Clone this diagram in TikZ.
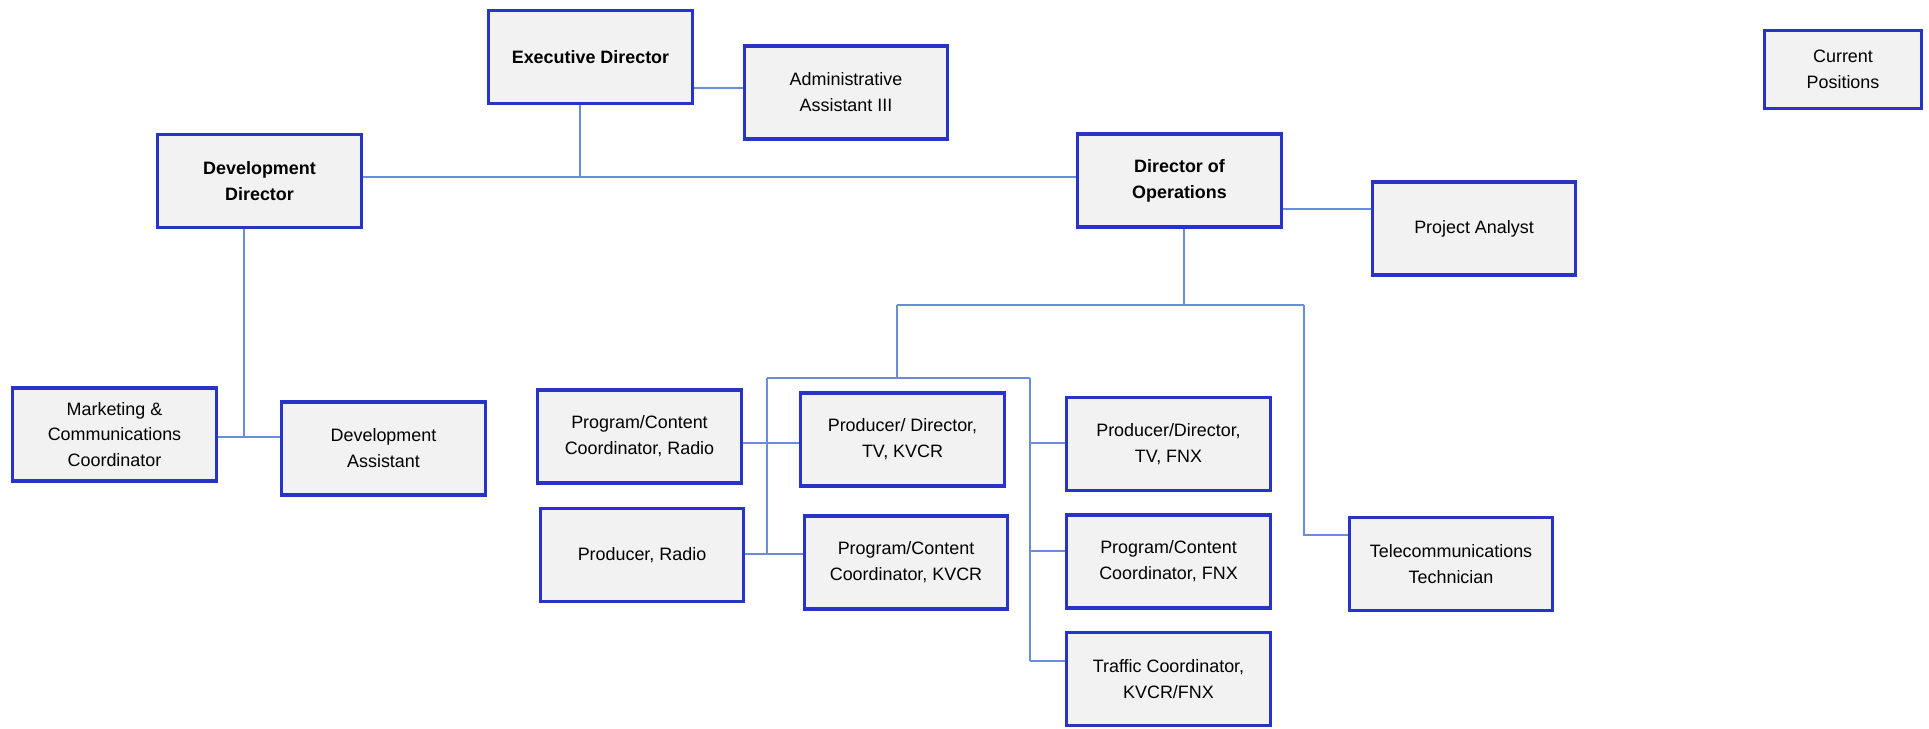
\documentclass[tikz,border=0pt]{standalone}
\usepackage{fontspec}
\setmainfont{Liberation Sans}
\definecolor{boxblue}{RGB}{40,52,200}
\definecolor{boxfill}{RGB}{242,242,242}
\definecolor{linkblue}{RGB}{105,140,220}
\begin{document}
\begin{tikzpicture}[x=0.02cm,y=-0.02cm,
  posbox/.style={draw=boxblue,fill=boxfill,line width=1.9pt,inner sep=0pt,align=center,
    font=\fontsize{10.2}{14.7}\selectfont,text=black},
  wbox/.style={posbox,minimum width=203.5*0.02cm,minimum height=93*0.02cm},
  boldbox/.style={wbox,font=\fontsize{10.2}{14.7}\selectfont\bfseries},
  link/.style={draw=linkblue,line width=0.8pt}]
\useasboundingbox (0,0) rectangle (1929,729);
% nodes
\node[boldbox] (exec) at (590.5,57) {Executive Director};
\node[wbox] (admin) at (846,92.5) {Administrative\\Assistant III};
\node[boldbox] (devdir) at (259.5,181) {Development\\Director};
\node[boldbox] (dirops) at (1179.5,180.5) {Director of\\Operations};
\node[wbox] (pa) at (1474,228.5) {Project Analyst};
\node[posbox,minimum width=157*0.02cm,minimum height=78*0.02cm] (cur) at (1843,69.5) {Current\\Positions};
\node[wbox] (mkt) at (114.5,434.5) {Marketing \&\\Communications\\Coordinator};
\node[wbox] (devasst) at (383.5,448.5) {Development\\Assistant};
\node[wbox] (pcradio) at (639.5,436.5) {Program/Content\\Coordinator, Radio};
\node[wbox] (prodradio) at (642,555) {Producer, Radio};
\node[wbox] (pdkvcr) at (902.5,439.5) {Producer/ Director,\\TV, KVCR};
\node[wbox] (pckvcr) at (906,562.5) {Program/Content\\Coordinator, KVCR};
\node[wbox] (pdfnx) at (1168.5,444) {Producer/Director,\\TV, FNX};
\node[wbox] (pcfnx) at (1168.5,561.5) {Program/Content\\Coordinator, FNX};
\node[wbox] (traffic) at (1168.5,679) {Traffic Coordinator,\\KVCR/FNX};
\node[wbox] (telecom) at (1451,564) {Telecommunications\\Technician};
% junction coordinates
\coordinate (jtop) at (580,177);
\coordinate (jadm) at (700,88);
\coordinate (jpa) at (1300,209);
\coordinate (jdev) at (244,437);
\coordinate (jops) at (1184,305);
\coordinate (jopsL) at (897,305);
\coordinate (jopsR) at (1304,305);
\coordinate (jmid) at (897,378);
\coordinate (jmidL) at (767,378);
\coordinate (jmidR) at (1030,378);
\coordinate (jL1) at (767,443);
\coordinate (jL2) at (767,554);
\coordinate (jR1) at (1030,443);
\coordinate (jR2) at (1030,551);
\coordinate (jR3) at (1030,661);
\coordinate (jtel) at (1304,535);
% connectors
\draw[link] (exec.south -| jtop) -- (jtop);
\draw[link] (jtop -| devdir.east) -- (jtop -| dirops.west);
\draw[link] (jadm -| exec.east) -- (jadm -| admin.west);
\draw[link] (jpa -| dirops.east) -- (jpa -| pa.west);
\draw[link] (devdir.south -| jdev) -- (jdev);
\draw[link] (jdev -| mkt.east) -- (jdev -| devasst.west);
\draw[link] (dirops.south -| jops) -- (jops);
\draw[link] (jopsL) -- (jopsR);
\draw[link] (jopsL) -- (jmid);
\draw[link] (jmidL) -- (jmidR);
\draw[link] (jmidL) -- (jL2);
\draw[link] (jmidR) -- (jR3);
\draw[link] (jL1 -| pcradio.east) -- (jL1 -| pdkvcr.west);
\draw[link] (jL2 -| prodradio.east) -- (jL2 -| pckvcr.west);
\draw[link] (jR1) -- (jR1 -| pdfnx.west);
\draw[link] (jR2) -- (jR2 -| pcfnx.west);
\draw[link] (jR3) -- (jR3 -| traffic.west);
\draw[link] (jopsR) -- (jtel) -- (jtel -| telecom.west);
\end{tikzpicture}
\end{document}
